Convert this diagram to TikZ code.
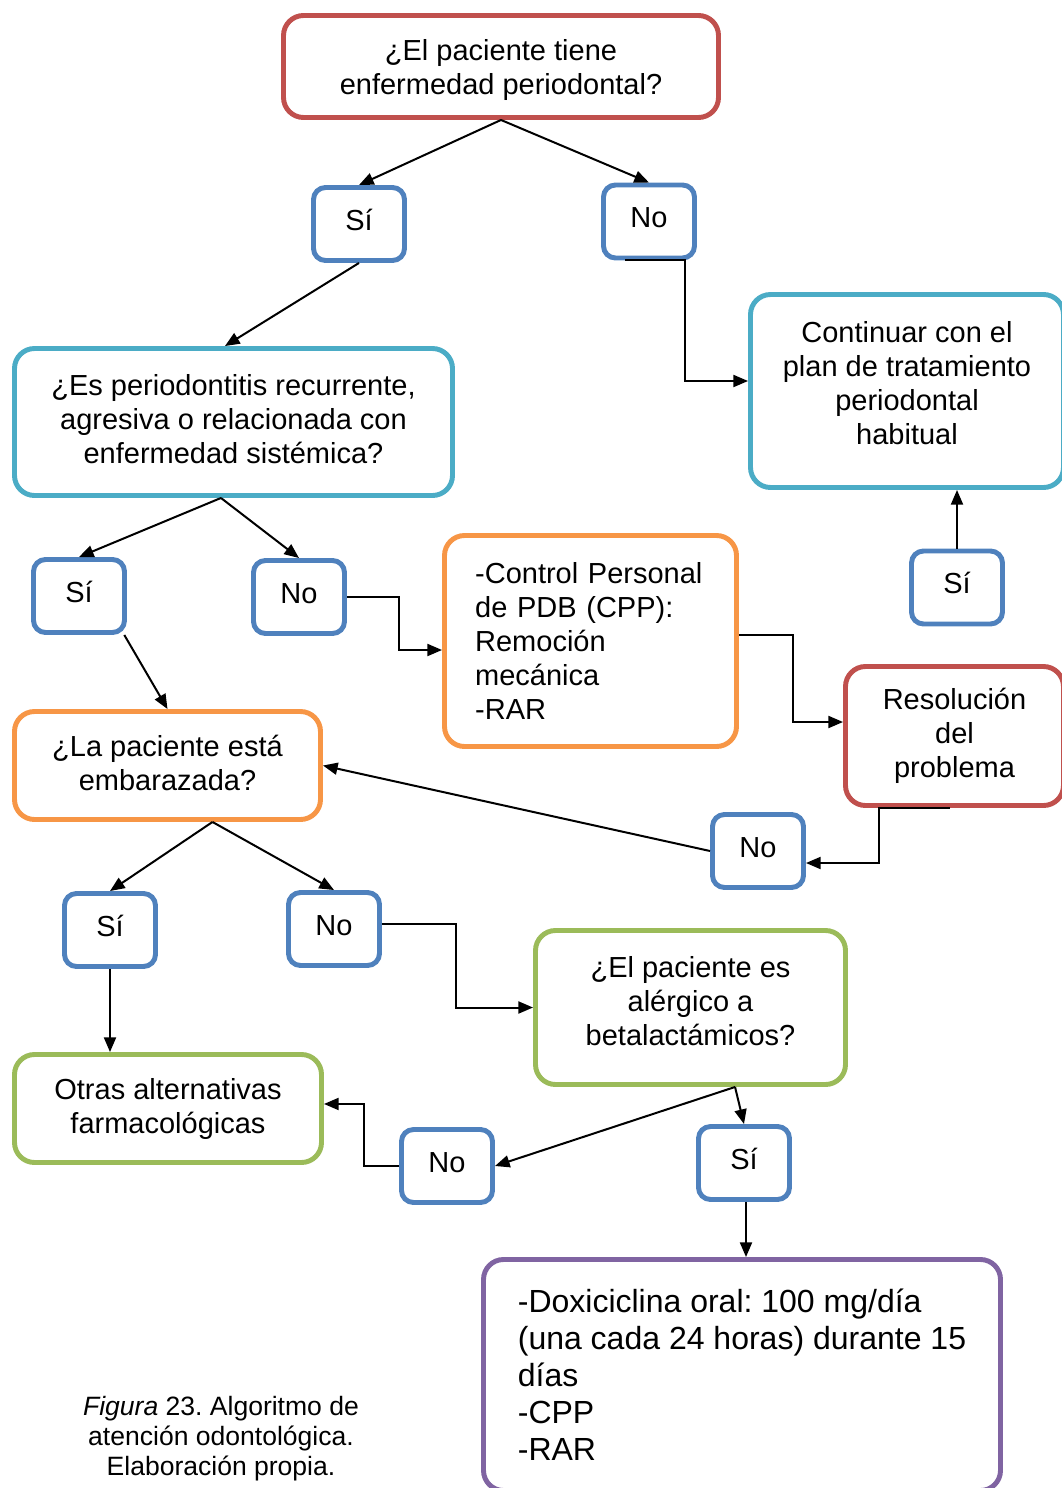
\documentclass[tikz,border=0pt]{standalone}
\usepackage{fontspec}
\setmainfont{Liberation Sans}
\usetikzlibrary{arrows.meta,calc}
\definecolor{cred}{HTML}{C0504D}
\definecolor{cblue}{HTML}{4F81BD}
\definecolor{ccyan}{HTML}{4BACC6}
\definecolor{corange}{HTML}{F79646}
\definecolor{cgreen}{HTML}{9BBB59}
\definecolor{cpurple}{HTML}{8064A2}
\tikzset{
  box/.style={draw=#1, line width=3.7pt, rounded corners=15pt, fill=white,
    inner sep=0pt, align=center,
    font=\fontsize{21.75pt}{25.5pt}\selectfont\frenchspacing},
  ans/.style={draw=cblue, line width=3.7pt, rounded corners=9pt, fill=white,
    inner sep=0pt, align=center, text height=16pt, text depth=7pt,
    minimum width=68.25pt, minimum height=54.75pt,
    font=\fontsize{21.75pt}{25.5pt}\selectfont},
  arr/.style={draw=black, line width=1.5pt, -{Triangle[length=11pt,width=9pt]}}
}
\begin{document}
\begin{tikzpicture}[x=0.75pt,y=-0.75pt]
\useasboundingbox (0,0) rectangle (1061,1488);
% nodes
\node[box=cred, minimum width=326.25pt, minimum height=76.5pt] (q1) at (501,66.5)
  {\rule{0pt}{21pt}¿El paciente tiene\\enfermedad periodontal?};
\node[ans] (si1) at (359,224) {Sí};
\node[ans] (no1) at (649,221.5) {No};
\node[box=ccyan, minimum width=328.5pt, minimum height=110.25pt] (q2) at (233.5,422)
  {¿Es periodontitis recurrente,\\agresiva o relacionada con\\enfermedad sistémica?\\[-21pt]};
\node[box=ccyan, minimum width=234.75pt, minimum height=144.75pt] (cont) at (907,391)
  {Continuar con el\\plan de tratamiento\\periodontal\\habitual\\[-13.5pt]};
\node[ans] (si2) at (79,596) {Sí};
\node[ans] (no2) at (299,597) {No};
\node[box=corange, minimum width=219pt, minimum height=158.25pt, text width=173pt, align=left] (cpp) at (590.5,641)
  {-Control Personal\\de PDB (CPP):\\Remoción\\mecánica\\-RAR};
\node[ans] (si3) at (957,587.5) {Sí};
\node[box=cred, minimum width=163.5pt, minimum height=104.25pt] (res) at (954.5,736)
  {Resolución\\del\\problema};
\node[box=corange, minimum width=229.5pt, minimum height=81pt] (q3) at (167.5,765.5)
  {¿La paciente está\\embarazada?\\[-21pt]};
\node[ans] (no3) at (758,851) {No};
\node[ans] (si4) at (110,930) {Sí};
\node[ans] (no4) at (334,929) {No};
\node[box=cgreen, minimum width=232.5pt, minimum height=115.5pt] (q4) at (690.5,1007.5)
  {¿El paciente es\\alérgico a\\betalactámicos?\\[-15pt]};
\node[box=cgreen, minimum width=230.25pt, minimum height=81pt] (otras) at (168,1108.5)
  {Otras alternativas\\farmacológicas};
\node[ans] (no5) at (447,1166) {No};
\node[ans] (si5) at (744,1163) {Sí};
\node[box=cpurple, minimum width=387.75pt, minimum height=173.25pt, align=left,
  font=\fontsize{24pt}{27.75pt}\selectfont\frenchspacing] (doxy) at (742,1375)
  {-Doxiciclina oral: 100 mg/día\\(una cada 24 horas) durante 15\\días\\-CPP\\-RAR};
\node[align=center, inner sep=0pt, font=\fontsize{19.9pt}{22.5pt}\selectfont\frenchspacing] (cap) at (221,1439)
  {\textit{Figura} 23. Algoritmo de\\atención odontológica.\\Elaboración propia.};
% connectors
\draw[arr] (q1.south) -- (si1.north);
\draw[arr] (q1.south) -- (no1.north);
\draw[arr] (si1.south) -- ([xshift=-6.4pt]q2.north);
\draw[arr] ([xshift=-18pt]no1.south) -- ([xshift=27pt]no1.south) |- ([yshift=7.5pt]cont.west);
\draw[arr] ([xshift=-9.4pt]q2.south) -- (si2.north);
\draw[arr] ([xshift=-9.4pt]q2.south) -- (no2.north);
\draw[arr] ([xshift=-2pt]si2.south east) -- (q3.north);
\draw[arr] (no2.east) -- ++(52,0) |- ([yshift=-6.75pt]cpp.west);
\draw[arr] ([yshift=4.5pt]cpp.east) -- ++(54,0) |- ([yshift=10.5pt]res.west);
\draw[arr] ([xshift=-3.75pt]res.south) -- ++(-71,0) |- ([yshift=-9pt]no3.east);
\draw[arr] (no3.west) -- (q3.east);
\draw[arr] (si3.north) -- (si3.north |- cont.south);
\draw[arr] ([xshift=33.75pt]q3.south) -- (si4.north);
\draw[arr] ([xshift=33.75pt]q3.south) -- (no4.north);
\draw[arr] ([yshift=3.75pt]no4.east) -- ++(74,0) |- (q4.west);
\draw[arr] (si4.south) -- (si4.south |- otras.north);
\draw[arr] ([xshift=33.4pt]q4.south) -- (si5.north);
\draw[arr] ([xshift=33.4pt]q4.south) -- (no5.east);
\draw[arr] (no5.west) -- ++(-35,0) |- ([yshift=3.4pt]otras.east);
\draw[arr] ([xshift=1.5pt]si5.south) -- ([xshift=1.5pt]si5.south |- doxy.north);
\end{tikzpicture}
\end{document}
